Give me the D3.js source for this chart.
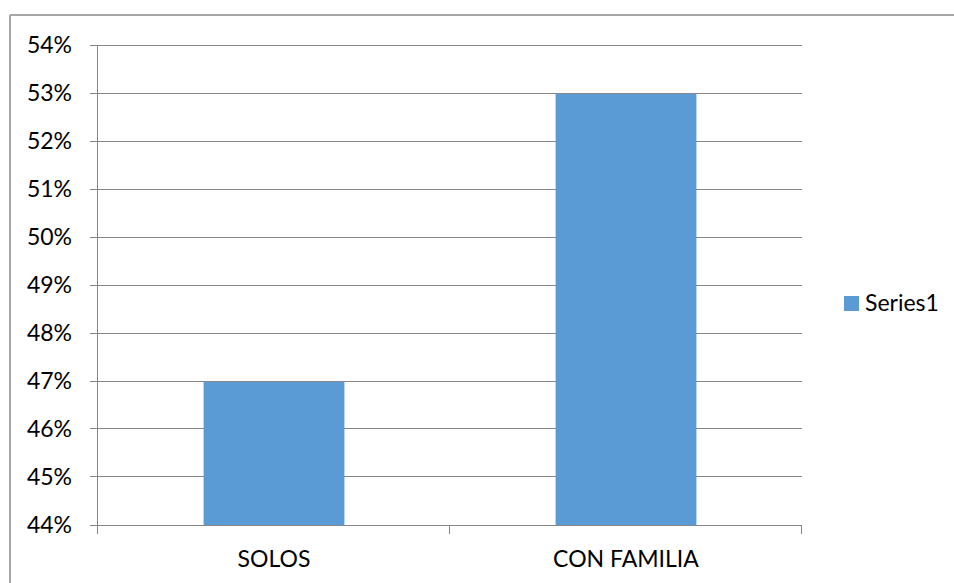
<!DOCTYPE html>
<html>
<head>
<meta charset="utf-8">
<script src="https://cdn.jsdelivr.net/npm/d3@7"></script>
<style>
  html, body { margin: 0; padding: 0; background: #fff; }
  svg { display: block; }
  text { font-family: Lato, "Open Sans", sans-serif; fill: #000; }
</style>
</head>
<body>
<svg id="chart" width="954" height="583"></svg>
<script>
const categories = ["SOLOS", "CON FAMILIA"];
const values = [0.47, 0.53];
const seriesName = "Series1";
const yTicks = [0.44, 0.45, 0.46, 0.47, 0.48, 0.49, 0.50, 0.51, 0.52, 0.53, 0.54];

const svg = d3.select("#chart");
const W = 954, H = 583;
const plot = { left: 98, right: 802, top: 44.5, bottom: 524.5 };
const fontSize = 23;

// outer border (top + left visible)
svg.append("line").attr("x1", 10).attr("x2", W).attr("y1", 15).attr("y2", 15)
  .attr("stroke", "#a6a6a6").attr("stroke-width", 2);
svg.append("line").attr("x1", 10).attr("x2", 10).attr("y1", 15).attr("y2", H)
  .attr("stroke", "#a6a6a6").attr("stroke-width", 2);

const x = d3.scaleBand().domain(categories)
  .range([plot.left, plot.right]).paddingInner(0.6).paddingOuter(0.3);
const y = d3.scaleLinear().domain([0.44, 0.54]).range([plot.bottom, plot.top]);

// gridlines
svg.append("g").selectAll("line").data(yTicks).join("line")
  .attr("x1", plot.left - 8).attr("x2", plot.right)
  .attr("y1", d => Math.round(y(d)) + 0.5).attr("y2", d => Math.round(y(d)) + 0.5)
  .attr("stroke", "#868686").attr("stroke-width", 1);

// bars
svg.append("g").selectAll("rect").data(values).join("rect")
  .attr("x", (d, i) => x(categories[i]))
  .attr("width", x.bandwidth())
  .attr("y", d => Math.round(y(d)) + 1)
  .attr("height", d => Math.round(y(0.44)) - Math.round(y(d)) - 1)
  .attr("fill", "#5b9bd5");

// y axis line
svg.append("line").attr("x1", plot.left - 0.5).attr("x2", plot.left - 0.5)
  .attr("y1", Math.round(y(0.54))).attr("y2", Math.round(y(0.44)) + 9)
  .attr("stroke", "#868686");

// x axis category boundary ticks
const step = x.step();
const bounds = categories.map(c => x(c) - step * x.paddingInner() / 2 + (categories.indexOf(c) === 0 ? 0 : 0));
const tickXs = [plot.left, (x(categories[0]) + x.bandwidth() + x(categories[1])) / 2, plot.right];
svg.append("g").selectAll("line").data(tickXs).join("line")
  .attr("x1", d => Math.round(d) - 0.5).attr("x2", d => Math.round(d) - 0.5)
  .attr("y1", Math.round(y(0.44))).attr("y2", Math.round(y(0.44)) + 9)
  .attr("stroke", "#868686");

// y labels
svg.append("g").selectAll("text").data(yTicks).join("text")
  .attr("x", 72).attr("y", d => y(d))
  .attr("dy", "0.35em")
  .attr("text-anchor", "end")
  .attr("font-size", fontSize)
  .text(d => d3.format(".0%")(d));

// x labels
svg.append("g").selectAll("text").data(categories).join("text")
  .attr("x", d => x(d) + x.bandwidth() / 2).attr("y", 567)
  .attr("text-anchor", "middle")
  .attr("font-size", fontSize)
  .text(d => d);

// legend
const lg = svg.append("g").attr("transform", "translate(844,296)");
lg.append("rect").attr("width", 15).attr("height", 15).attr("fill", "#5b9bd5");
lg.append("text").attr("x", 21).attr("y", 15).attr("font-size", fontSize).text(seriesName);
</script>
</body>
</html>
